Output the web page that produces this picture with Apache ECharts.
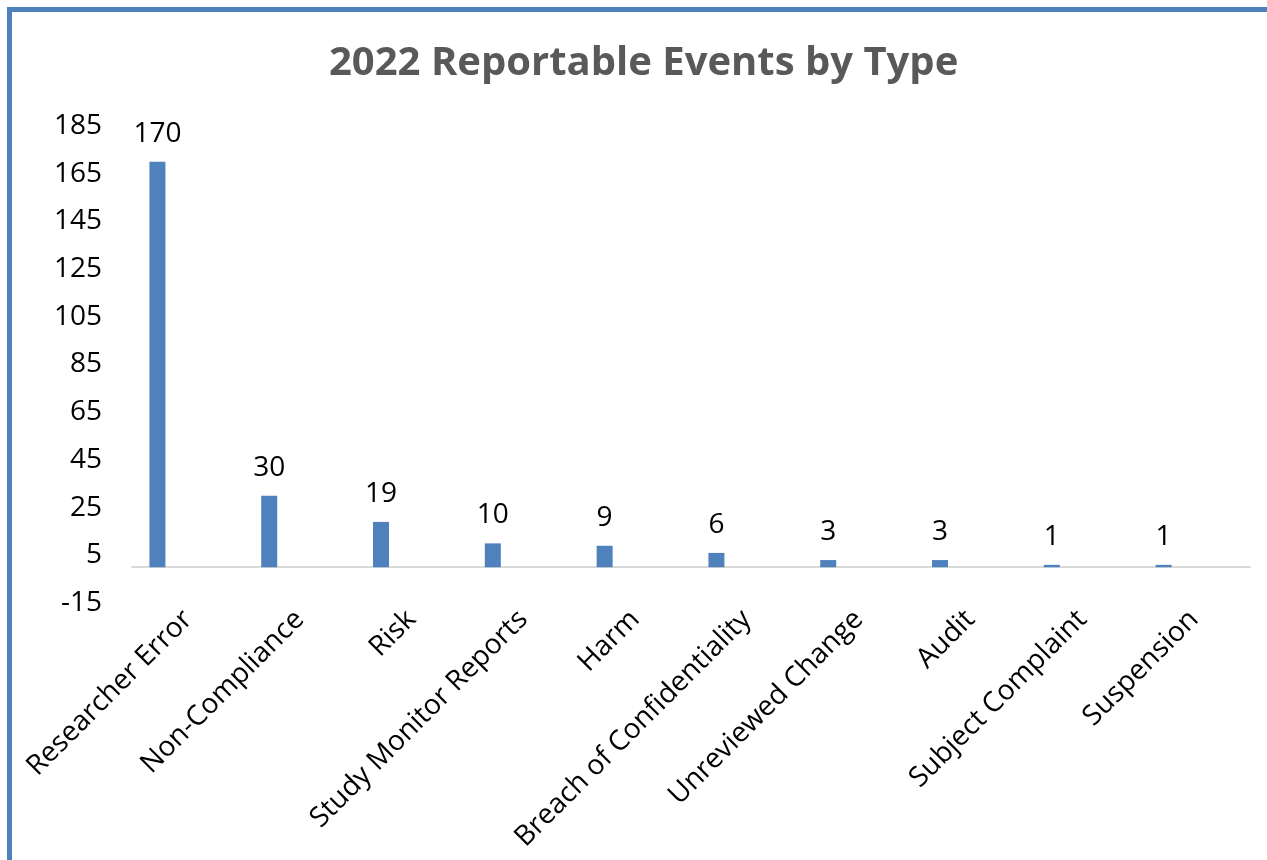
<!DOCTYPE html>
<html>
<head>
<meta charset="utf-8">
<script src="https://cdn.jsdelivr.net/npm/echarts@6/dist/echarts.min.js"></script>
<style>
html,body{margin:0;padding:0;background:#fff;}
#chart{width:1267px;height:860px;}
</style>
</head>
<body>
<div id="chart"></div>
<script>
const titleText = '2022 Reportable Events by Type';
const categories = ['Researcher Error','Non-Compliance','Risk','Study Monitor Reports','Harm','Breach of Confidentiality','Unreviewed Change','Audit','Subject Complaint','Suspension'];
const values = [170,30,19,10,9,6,3,3,1,1];
const yTicks = [-15,5,25,45,65,85,105,125,145,165,185];

const FONT = 'Open Sans';
const chart = echarts.init(document.getElementById('chart'), null, {renderer:'canvas'});

// Excel cluster layout had 4 series slots; only the first carries data.
const emptySlot = () => ({type:'bar', data:[], barWidth:16, barGap:'27%', silent:true});

chart.setOption({
  animation:false,
  backgroundColor:'#ffffff',
  graphic:[{
    type:'rect', silent:true, z:-1,
    shape:{x:9.5, y:9.5, width:1400, height:1000},
    style:{fill:'none', stroke:'#4f81bd', lineWidth:5}
  }],
  title:{
    text:titleText,
    left:324, top:39,
    textStyle:{fontFamily:FONT, fontSize:40, fontWeight:'bold', color:'#595959'}
  },
  grid:{left:132, right:17, top:126, bottom:257, containLabel:false},
  xAxis:{
    type:'category',
    data:categories,
    axisLine:{show:true, lineStyle:{color:'#d9d9d9', width:2}},
    axisTick:{show:false},
    axisLabel:{interval:0, rotate:45, margin:12, fontFamily:FONT, fontSize:28, color:'#000'}
  },
  yAxis:{
    type:'value',
    min:-15, max:185,
    axisLine:{show:false},
    axisTick:{show:false},
    splitLine:{show:false},
    axisLabel:{customValues:yTicks, margin:30, fontFamily:FONT, fontSize:28, color:'#000'}
  },
  series:[
    {
      type:'bar', name:'2022', data:values, barWidth:16, barGap:'27%',
      itemStyle:{color:'#4f81bd'},
      label:{show:true, position:'top', distance:14, fontFamily:FONT, fontSize:28, color:'#000'}
    },
    emptySlot(), emptySlot(), emptySlot()
  ]
});
</script>
</body>
</html>
